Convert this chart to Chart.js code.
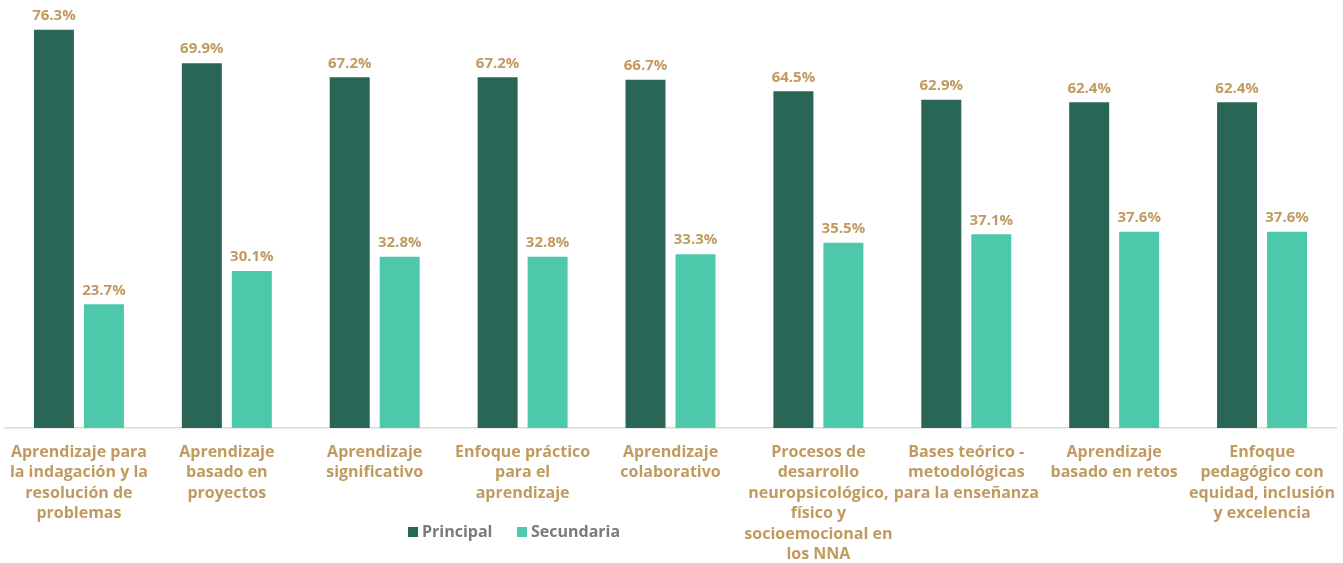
<!DOCTYPE html>
<html>
<head>
<meta charset="utf-8">
<script src="https://cdn.jsdelivr.net/npm/chart.js@4.4.0/dist/chart.umd.min.js"></script>
<style>
  html, body { margin: 0; padding: 0; background: #ffffff; }
  #wrap { width: 1343px; height: 563px; position: relative; }
</style>
</head>
<body>
<div id="wrap"><canvas id="approachChart"></canvas></div>
<script>
const categories = [
  ['Aprendizaje para', 'la indagación y la', 'resolución de', 'problemas'],
  ['Aprendizaje', 'basado en', 'proyectos'],
  ['Aprendizaje', 'significativo'],
  ['Enfoque práctico', 'para el', 'aprendizaje'],
  ['Aprendizaje', 'colaborativo'],
  ['Procesos de', 'desarrollo', 'neuropsicológico,', 'físico y', 'socioemocional en', 'los NNA'],
  ['Bases teórico -', 'metodológicas', 'para la enseñanza'],
  ['Aprendizaje', 'basado en retos'],
  ['Enfoque', 'pedagógico con', 'equidad, inclusión', 'y excelencia']
]
const principal = [76.3, 69.9, 67.2, 67.2, 66.7, 64.5, 62.9, 62.4, 62.4]
const secundaria = [23.7, 30.1, 32.8, 32.8, 33.3, 35.5, 37.1, 37.6, 37.6]
const seriesNames = ['Principal', 'Secundaria']

const darkGreen = '#2a6656'
const lightGreen = '#4dc8ab'
const gold = '#c09a5f'
const fontFamily = '"Open Sans", "DejaVu Sans", sans-serif'

// value labels above each bar
const valueLabels = {
  id: 'valueLabels',
  afterDatasetsDraw(chart) {
    const ctx = chart.ctx
    ctx.save()
    ctx.font = `700 15px ${fontFamily}`
    ctx.fillStyle = gold
    ctx.textAlign = 'center'
    ctx.textBaseline = 'middle'
    chart.data.datasets.forEach((ds, i) => {
      chart.getDatasetMeta(i).data.forEach((bar, j) => {
        ctx.fillText(ds.data[j].toFixed(1) + '%', bar.x, bar.y - 14)
      })
    })
    ctx.restore()
  }
}

// legend sits inside the label band, so draw it by hand
const bottomLegend = {
  id: 'bottomLegend',
  afterDraw(chart) {
    const ctx = chart.ctx
    const items = [
      { x: 408, color: darkGreen, text: seriesNames[0] },
      { x: 517, color: lightGreen, text: seriesNames[1] }
    ]
    ctx.save()
    ctx.font = `700 16px ${fontFamily}`
    ctx.textBaseline = 'middle'
    ctx.textAlign = 'left'
    items.forEach((it) => {
      ctx.fillStyle = it.color
      ctx.fillRect(it.x, 527, 10, 10)
      ctx.fillStyle = '#7a7a7a'
      ctx.fillText(it.text, it.x + 14, 532)
    })
    ctx.restore()
  }
}

const ctx = document.querySelector('#approachChart')
new Chart(ctx, {
  type: 'bar',
  data: {
    labels: categories,
    datasets: [{
      label: seriesNames[0],
      data: principal,
      backgroundColor: darkGreen,
      categoryPercentage: 0.676,
      barPercentage: 0.8
    }, {
      label: seriesNames[1],
      data: secundaria,
      backgroundColor: lightGreen,
      categoryPercentage: 0.676,
      barPercentage: 0.8
    }]
  },
  options: {
    responsive: true,
    maintainAspectRatio: false,
    animation: false,
    layout: { padding: { left: 5, right: 7, top: 0, bottom: 0 } },
    plugins: {
      legend: { display: false },
      tooltip: { enabled: false }
    },
    scales: {
      x: {
        grid: { display: false },
        border: { display: true, color: '#d9d9d9', width: 1.5 },
        ticks: {
          color: gold,
          font: { family: fontFamily, size: 16, weight: '700', lineHeight: 1.28 },
          padding: 6,
          maxRotation: 0,
          autoSkip: false
        },
        afterFit: (scale) => { scale.height = 135 }
      },
      y: {
        display: false,
        min: 0,
        max: 82
      }
    }
  },
  plugins: [valueLabels, bottomLegend]
})
</script>
</body>
</html>
